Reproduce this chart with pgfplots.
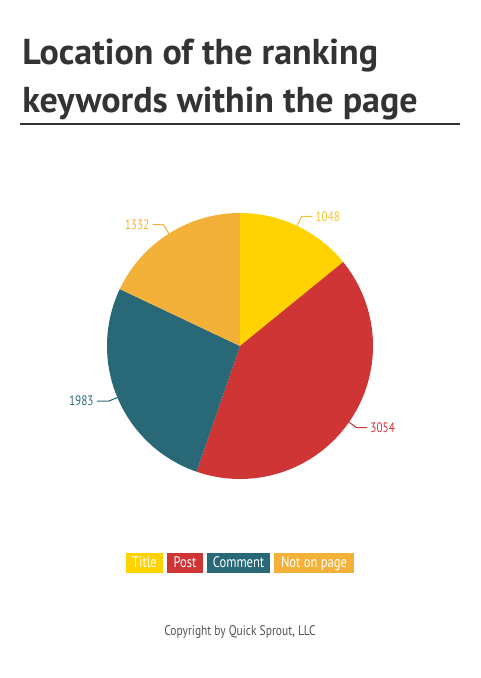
\documentclass[border=0pt]{standalone}
\usepackage{pgfplots}
\pgfplotsset{compat=1.18}
\usepackage{pgfplotstable}
\usepackage{fontspec}
\setmainfont{PT Sans}
\newfontfamily\narrow[FakeStretch=0.82]{PT Sans}

\definecolor{ctitle}{HTML}{FFD200}
\definecolor{cpost}{HTML}{D03536}
\definecolor{ccomment}{HTML}{296877}
\definecolor{cnot}{HTML}{F3B13A}
\definecolor{ctitlelbl}{HTML}{F5C531}
\definecolor{dark}{HTML}{333333}

% keyword counts per location
\pgfplotstableread{
name value
Title 1048
Post 3054
Comment 1983
Notonpage 1332
}\piedata

\pgfplotstablegetelem{0}{value}\of\piedata \let\vA\pgfplotsretval
\pgfplotstablegetelem{1}{value}\of\piedata \let\vB\pgfplotsretval
\pgfplotstablegetelem{2}{value}\of\piedata \let\vC\pgfplotsretval
\pgfplotstablegetelem{3}{value}\of\piedata \let\vD\pgfplotsretval
\pgfmathsetmacro\total{\vA+\vB+\vC+\vD}
% slices run clockwise from 12 o'clock
\pgfmathsetmacro\aA{90}
\pgfmathsetmacro\aB{\aA-360*(\vA/\total)}
\pgfmathsetmacro\aC{\aB-360*(\vB/\total)}
\pgfmathsetmacro\aD{\aC-360*(\vC/\total)}
\pgfmathsetmacro\aE{\aD-360*(\vD/\total)}
\pgfmathsetmacro\mA{(\aA+\aB)/2}
\pgfmathsetmacro\mB{(\aB+\aC)/2}
\pgfmathsetmacro\mC{(\aC+\aD)/2}
\pgfmathsetmacro\mD{(\aD+\aE)/2}

\begin{document}
\begin{tikzpicture}
\useasboundingbox (-180pt,-249pt) rectangle (180pt,259.5pt);

% title
\node[anchor=base west, inner sep=0, text=dark, font=\fontsize{27}{30}\selectfont\bfseries]
  at (-163.5pt,210.75pt) {Location of the ranking};
\node[anchor=base west, inner sep=0, text=dark, font=\fontsize{27}{30}\selectfont\bfseries]
  at (-163.5pt,174.75pt) {keywords within the page};
\draw[dark, line width=1.6pt] (-165pt,166.5pt) -- (165pt,166.5pt);

\begin{axis}[
  hide axis, clip=false,
  x=99.75pt, y=99.75pt,
  xmin=-1, xmax=1, ymin=-1, ymax=1,
  at={(0,0)}, anchor=center,
  samples=80,
]
\addplot[fill=ctitle, draw=none, domain=\aB:\aA, variable=\t] ({cos(\t)},{sin(\t)}) -- (axis cs:0,0) -- cycle;
\addplot[fill=cpost, draw=none, domain=\aC:\aB, variable=\t] ({cos(\t)},{sin(\t)}) -- (axis cs:0,0) -- cycle;
\addplot[fill=ccomment, draw=none, domain=\aD:\aC, variable=\t] ({cos(\t)},{sin(\t)}) -- (axis cs:0,0) -- cycle;
\addplot[fill=cnot, draw=none, domain=\aE:\aD, variable=\t] ({cos(\t)},{sin(\t)}) -- (axis cs:0,0) -- cycle;

% value labels with leader lines
\draw[ctitlelbl, line width=0.8pt] (axis cs:{cos(\mA)},{sin(\mA)}) -- (axis cs:{1.08*cos(\mA)},{1.08*sin(\mA)}) -- ++(axis direction cs:0.08,0)
  node[anchor=west, inner sep=2pt, font=\narrow\fontsize{10.3}{12}\selectfont, text=ctitlelbl] {\vA};
\draw[cpost, line width=0.8pt] (axis cs:{cos(\mB)},{sin(\mB)}) -- (axis cs:{1.07*cos(\mB)},{1.07*sin(\mB)}) -- ++(axis direction cs:0.08,0)
  node[anchor=west, inner sep=2pt, font=\narrow\fontsize{10.3}{12}\selectfont, text=cpost] {\vB};
\draw[ccomment, line width=0.8pt] (axis cs:{cos(\mC)},{sin(\mC)}) -- (axis cs:{1.07*cos(\mC)},{1.07*sin(\mC)}) -- ++(axis direction cs:-0.09,0)
  node[anchor=east, inner sep=2pt, font=\narrow\fontsize{10.3}{12}\selectfont, text=ccomment] {\vC};
\draw[cnot, line width=0.8pt] (axis cs:{cos(\mD)},{sin(\mD)}) -- (axis cs:{1.08*cos(\mD)},{1.08*sin(\mD)}) -- ++(axis direction cs:-0.08,0)
  node[anchor=east, inner sep=2pt, font=\narrow\fontsize{10.3}{12}\selectfont, text=cnot] {\vD};
\end{axis}

% legend
\tikzset{lg/.style={anchor=center, inner sep=0, minimum height=15pt, text=white,
  text height=8.3pt, text depth=2.2pt, font=\narrow\fontsize{11.5}{13}\selectfont}}
\node[lg, fill=ctitle, minimum width=27.75pt] at (-71.6pt,-162.75pt) {Title};
\node[lg, fill=cpost, minimum width=27pt] at (-41.25pt,-162.75pt) {Post};
\node[lg, fill=ccomment, minimum width=47.25pt] at (-1.1pt,-162.75pt) {Comment};
\node[lg, fill=cnot, minimum width=60pt] at (55.5pt,-162.75pt) {Not on page};

% footer
\node[anchor=center, inner sep=0, text=black!67, font=\narrow\fontsize{10.5}{12}\selectfont]
  at (0,-214.5pt) {Copyright by Quick Sprout, LLC};
\end{tikzpicture}
\end{document}
